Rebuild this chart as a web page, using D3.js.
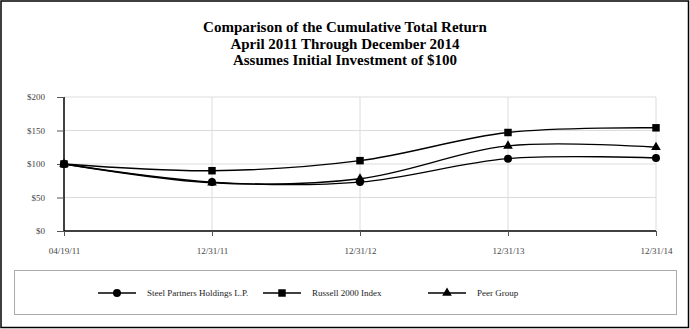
<!DOCTYPE html>
<html>
<head>
<meta charset="utf-8">
<script src="https://cdn.jsdelivr.net/npm/d3@7"></script>
<style>
  html, body { margin: 0; padding: 0; background: #fff; }
  svg { display: block; }
</style>
</head>
<body>
<svg id="chart" width="690" height="329"></svg>
<script>
// Period end dates (x categories)
const dates = ["04/19/11", "12/31/11", "12/31/12", "12/31/13", "12/31/14"];
// Cumulative value of a $100 investment
const steelPartners = [100, 73, 73, 108, 109];
const russell2000   = [100, 90, 105, 147, 154];
const peerGroup     = [100, 72, 78, 127, 125];
const yTicks = [0, 50, 100, 150, 200];
const titleLines = [
  "Comparison of the Cumulative Total Return",
  "April 2011 Through December 2014",
  "Assumes Initial Investment of $100"
];
const seriesNames = ["Steel Partners Holdings L.P.", "Russell 2000 Index", "Peer Group"];

(function draw() {
  const series = [
    { name: seriesNames[0], values: steelPartners, symbol: d3.symbolCircle, size: 50 },
    { name: seriesNames[1], values: russell2000,   symbol: d3.symbolSquare, size: 56 },
    { name: seriesNames[2], values: peerGroup,     symbol: d3.symbolTriangle, size: 40 }
  ];

  const svg = d3.select("#chart");
  const W = 690, H = 329;
  const serif = "'Liberation Serif', 'Times New Roman', serif";

  // outer frame
  svg.append("rect").attr("x", 1).attr("y", 1).attr("width", W - 2.5).attr("height", H - 2.5)
    .attr("fill", "#fff").attr("stroke", "#000").attr("stroke-width", 1.5);

  // title
  svg.append("g").selectAll("text").data(titleLines).join("text")
    .attr("x", 345).attr("y", (d, i) => 32 + i * 16.5)
    .attr("text-anchor", "middle")
    .attr("font-family", serif).attr("font-weight", "bold").attr("font-size", 15)
    .attr("fill", "#000").text(d => d);

  const pLeft = 64, pRight = 656, pTop = 97, pBottom = 231;
  const x = d3.scalePoint().domain(dates).range([pLeft, pRight]);
  const y = d3.scaleLinear().domain([0, 200]).range([pBottom, pTop]);

  // gridlines
  const grid = svg.append("g").attr("stroke", "#dcdcdc").attr("stroke-width", 1);
  grid.selectAll("line.h").data(yTicks.filter(v => v > 0)).join("line").attr("class", "h")
    .attr("x1", pLeft).attr("x2", pRight).attr("y1", d => y(d)).attr("y2", d => y(d));
  grid.selectAll("line.v").data(dates.slice(1)).join("line").attr("class", "v")
    .attr("x1", d => x(d)).attr("x2", d => x(d)).attr("y1", pTop).attr("y2", pBottom);

  // y axis
  const yAxis = svg.append("g").attr("transform", `translate(${pLeft},0)`)
    .call(d3.axisLeft(y).tickValues(yTicks).tickSize(7).tickPadding(12).tickFormat(d => "$" + d));
  yAxis.select(".domain").attr("stroke", "#000").attr("stroke-width", 1.5).attr("d", `M0,${pTop}V${pBottom}`);
  yAxis.selectAll(".tick line").attr("stroke", "#555");
  yAxis.selectAll(".tick text").attr("font-family", serif).attr("font-size", 9).attr("fill", "#444");

  // x axis
  const xAxis = svg.append("g").attr("transform", `translate(0,${pBottom})`)
    .call(d3.axisBottom(x).tickSize(5).tickPadding(12));
  xAxis.select(".domain").attr("stroke", "#000").attr("stroke-width", 1.5).attr("d", `M${pLeft},0H${pRight}`);
  xAxis.selectAll(".tick line").attr("stroke", "#555");
  xAxis.selectAll(".tick text").attr("font-family", serif).attr("font-size", 9).attr("fill", "#444");

  // lines
  const line = d3.line()
    .x((d, i) => x(dates[i]))
    .y(d => y(d))
    .curve(d3.curveCatmullRom.alpha(0.5));

  const plot = svg.append("g");
  series.forEach(s => {
    plot.append("path").datum(s.values)
      .attr("fill", "none").attr("stroke", "#000").attr("stroke-width", 1.4)
      .attr("d", line);
  });
  series.forEach(s => {
    plot.append("g").selectAll("path").data(s.values).join("path")
      .attr("transform", (d, i) => `translate(${x(dates[i])},${y(d)})`)
      .attr("d", d3.symbol().type(s.symbol).size(s.size))
      .attr("fill", "#000");
  });

  // legend
  svg.append("rect").attr("x", 14.5).attr("y", 270.5).attr("width", 662).attr("height", 44)
    .attr("fill", "#fff").attr("stroke", "#aaa").attr("stroke-width", 1);

  const legendX = [98, 263, 428];
  const leg = svg.append("g").selectAll("g").data(series).join("g")
    .attr("transform", (d, i) => `translate(${legendX[i]},293)`);
  leg.append("line").attr("x1", 0).attr("x2", 38).attr("stroke", "#000").attr("stroke-width", 1.5);
  leg.append("path").attr("transform", "translate(19,0)")
    .attr("d", d => d3.symbol().type(d.symbol).size(d.size)())
    .attr("fill", "#000");
  leg.append("text").attr("x", 49).attr("y", 3)
    .attr("font-family", serif).attr("font-size", 9).attr("fill", "#222")
    .text(d => d.name);
})();
</script>
</body>
</html>
